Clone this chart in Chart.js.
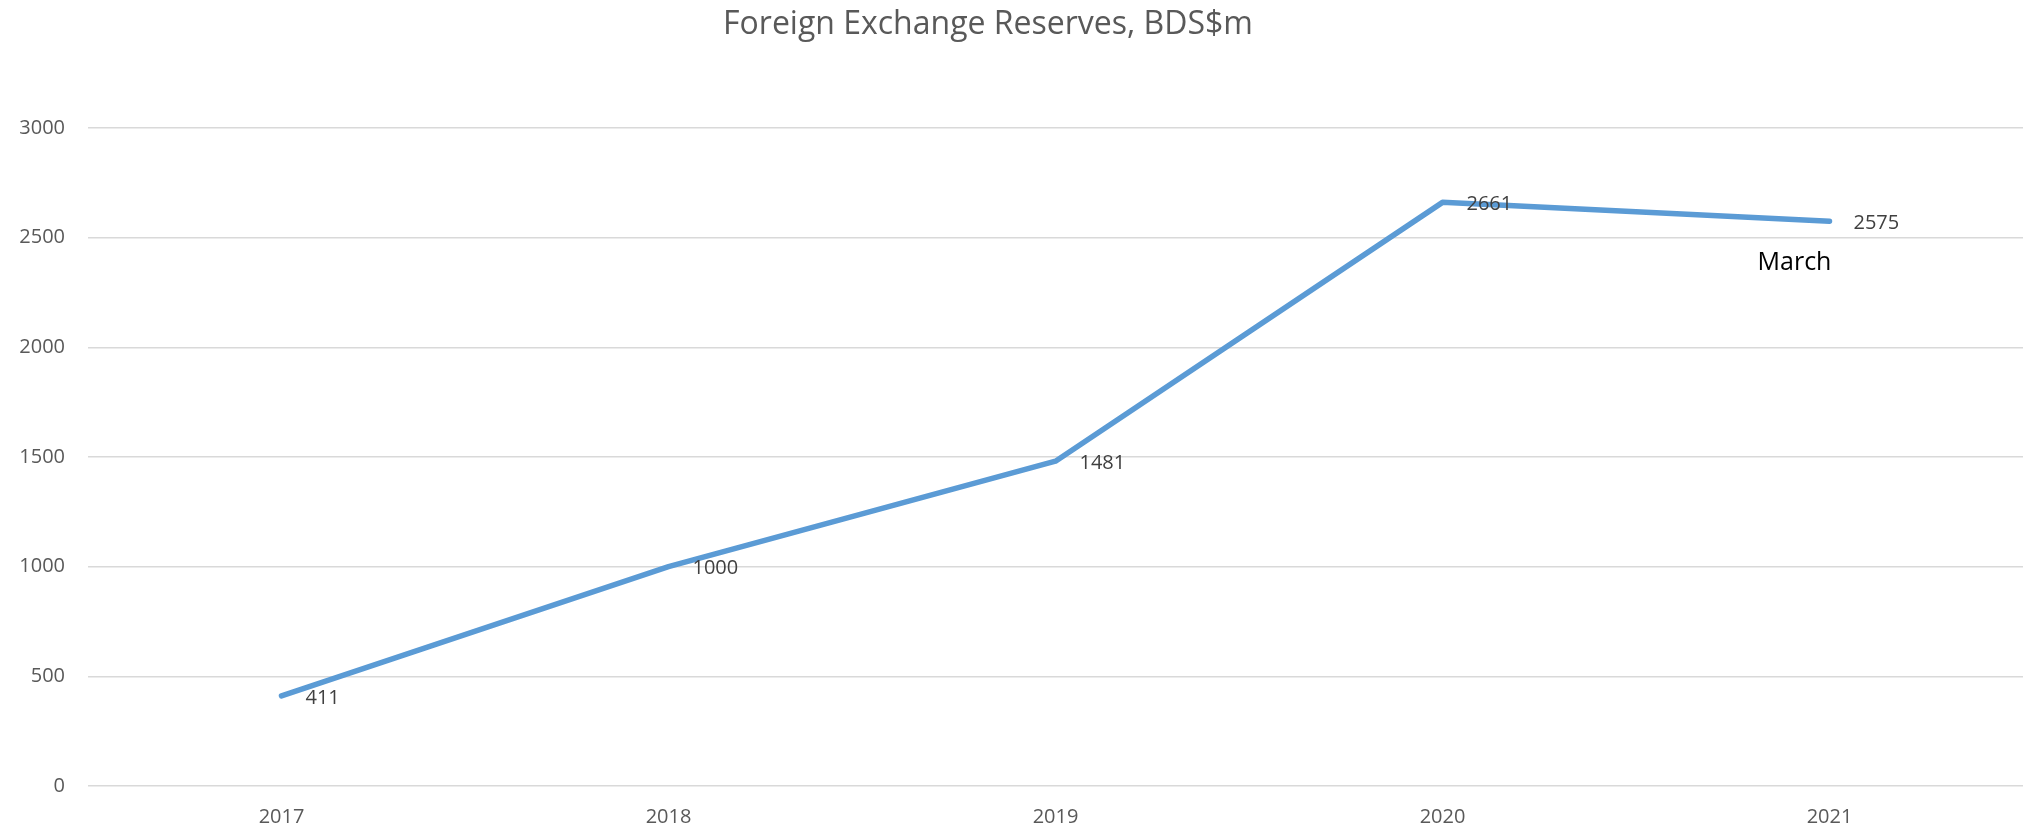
<!DOCTYPE html>
<html>
<head>
<meta charset="utf-8">
<script src="https://cdn.jsdelivr.net/npm/chart.js@4.4.0/dist/chart.umd.min.js"></script>
<style>
  html, body { margin: 0; padding: 0; background: #ffffff; }
  #wrap { width: 2023px; height: 830px; position: relative; }
</style>
</head>
<body>
<div id="wrap"><canvas id="myChart" width="2023" height="830"></canvas></div>
<script>
const years = ['2017', '2018', '2019', '2020', '2021'];
const reserves = [411, 1000, 1481, 2661, 2575];
const yTicks = [0, 500, 1000, 1500, 2000, 2500, 3000];
const chartTitle = 'Foreign Exchange Reserves, BDS$m';
const lastNote = 'March';

const FONT = "'Open Sans', sans-serif";
const LINE = '#5b9bd5';
const TEXT = '#595959';

// title, value labels and the "March" note
const labelsPlugin = {
    id: 'labels',
    afterDatasetsDraw(chart) {
        const ctx = chart.ctx;
        ctx.save();
        ctx.fillStyle = TEXT;
        ctx.font = '32px ' + FONT;
        ctx.textAlign = 'center';
        ctx.textBaseline = 'middle';
        ctx.fillText(chartTitle, 988, 25);

        const meta = chart.getDatasetMeta(0);
        ctx.font = '20px ' + FONT;
        ctx.fillStyle = '#404040';
        ctx.textAlign = 'left';
        meta.data.forEach((pt, i) => {
            ctx.fillText(String(reserves[i]), pt.x + 24, pt.y + 2);
        });

        const last = meta.data[meta.data.length - 1];
        ctx.font = '25px ' + FONT;
        ctx.fillStyle = '#000000';
        ctx.textAlign = 'center';
        ctx.fillText(lastNote, last.x - 35, last.y + 42);
        ctx.restore();
    }
};

new Chart(document.getElementById('myChart'), {
    type: 'line',
    data: {
        labels: years,
        datasets: [{
            label: 'Reserves', data: reserves,
            borderColor: LINE, backgroundColor: LINE, borderWidth: 5.5,
            pointRadius: 0, tension: 0, fill: false,
            borderCapStyle: 'round', borderJoinStyle: 'round'
        }]
    },
    options: {
        responsive: false, animation: false,
        layout: { padding: { top: 128, left: 0, right: 0, bottom: 0 } },
        plugins: { legend: { display: false }, title: { display: false }, tooltip: { enabled: false } },
        scales: {
            x: {
                offset: true,
                grid: { display: false, drawTicks: false },
                border: { display: false },
                ticks: { color: TEXT, font: { family: FONT, size: 20 }, padding: 19, maxRotation: 0 },
                afterFit: (s) => { s.height = 44; }
            },
            y: {
                min: 0, max: 3000,
                afterBuildTicks: (s) => { s.ticks = yTicks.map(v => ({ value: v })); },
                grid: { color: '#d9d9d9', lineWidth: 1.5, drawTicks: false },
                border: { display: false },
                ticks: { color: TEXT, font: { family: FONT, size: 20 }, padding: 23, callback: (v) => String(v) },
                afterFit: (s) => { s.width = 88; }
            }
        }
    },
    plugins: [labelsPlugin]
});
</script>
</body>
</html>
